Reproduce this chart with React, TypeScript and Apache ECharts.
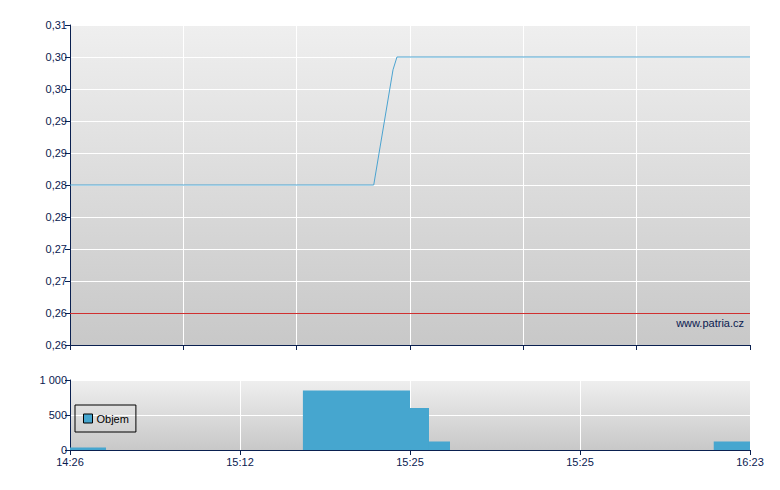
import React, { useEffect, useRef } from "react";
import * as echarts from "echarts";

// Price series (x in position units 0..120 along the time axis)
const priceX = [0, 53.6, 57.0, 57.7, 120];
const priceY = [0.28, 0.28, 0.298, 0.3, 0.3];
const refLineValue = 0.26;

// Price axis tick labels (bottom to top)
const priceTickLabels = ["0,26", "0,26", "0,27", "0,27", "0,28", "0,28", "0,29", "0,29", "0,30", "0,30", "0,31"];
const volTickLabels = ["0", "500", "1 000"];
const timeLabels = ["14:26", "15:12", "15:25", "15:25", "16:23"];

// Volume blocks: start, end, value
const volStart = [0, 41.1, 60, 63.35, 113.6];
const volEnd = [6.35, 60, 63.35, 67.06, 120];
const volValue = [35, 850, 600, 120, 120];

const NAVY = "#0a2050";
const FONT = "Liberation Sans";

export default function App() {
  const ref = useRef<HTMLDivElement>(null);
  useEffect(() => {
    if (!ref.current) return;
    const chart = echarts.init(ref.current, undefined, { renderer: "svg" });
    const bg = new echarts.graphic.LinearGradient(0, 0, 0, 1, [
      { offset: 0, color: "#efefef" },
      { offset: 1, color: "#c8c8c8" },
    ]);
    const bg2 = new echarts.graphic.LinearGradient(0, 0, 0, 1, [
      { offset: 0, color: "#efefef" },
      { offset: 1, color: "#c8c8c8" },
    ]);
    const axisCommon = {
      axisLine: { show: true, lineStyle: { color: NAVY, width: 1 } },
      axisTick: { show: true, length: 5, lineStyle: { color: NAVY } },
      axisLabel: { color: NAVY, fontFamily: FONT, fontSize: 11, margin: 3 },
      splitLine: { show: true, lineStyle: { color: "#ffffff", width: 1 } },
    };
    chart.setOption({
      animation: false,
      backgroundColor: "#ffffff",
      grid: [
        { left: 70, top: 25, width: 680, height: 320, show: true, backgroundColor: bg, borderWidth: 0 },
        { left: 70, top: 380, width: 680, height: 70, show: true, backgroundColor: bg2, borderWidth: 0 },
      ],
      xAxis: [
        {
          ...axisCommon,
          type: "value",
          gridIndex: 0,
          min: 0,
          max: 120,
          interval: 20,
          axisLabel: { show: false },
        },
        {
          ...axisCommon,
          type: "value",
          gridIndex: 1,
          min: 0,
          max: 120,
          interval: 30,
          axisLabel: {
            ...axisCommon.axisLabel,
            margin: 6,
            formatter: (v: number) => timeLabels[Math.round(v / 30)] ?? "",
          },
        },
      ],
      yAxis: [
        {
          ...axisCommon,
          type: "value",
          gridIndex: 0,
          min: 0.255,
          max: 0.305,
          interval: 0.005,
          axisLabel: {
            ...axisCommon.axisLabel,
            formatter: (v: number) => priceTickLabels[Math.round((v - 0.255) / 0.005)] ?? "",
          },
        },
        {
          ...axisCommon,
          type: "value",
          gridIndex: 1,
          min: 0,
          max: 1000,
          interval: 500,
          axisLabel: {
            ...axisCommon.axisLabel,
            formatter: (v: number) => volTickLabels[Math.round(v / 500)] ?? "",
          },
        },
      ],
      legend: {
        left: 75,
        top: 405,
        data: [{ name: "Objem", icon: "rect" }],
        itemWidth: 9,
        itemHeight: 9,
        itemGap: 4,
        padding: [8, 7, 8, 8],
        borderColor: "#000000",
        borderWidth: 1,
        borderRadius: 0,
        textStyle: { color: "#000000", fontFamily: FONT, fontSize: 11, padding: [0, 0, 0, -1] },
        itemStyle: { borderColor: "#000000", borderWidth: 1 },
      },
      graphic: [
        {
          type: "text",
          right: 36,
          top: 317,
          style: { text: "www.patria.cz", fill: NAVY, font: `11px '${FONT}'` },
        },
      ],
      series: [
        {
          type: "line",
          name: "Cena",
          xAxisIndex: 0,
          yAxisIndex: 0,
          data: priceX.map((x, i) => [x, priceY[i]]),
          showSymbol: false,
          lineStyle: { color: "#4ba3d0", width: 1 },
          markLine: {
            silent: true,
            symbol: "none",
            label: { show: false },
            lineStyle: { color: "#d03030", type: "solid", width: 1 },
            data: [{ yAxis: refLineValue }],
          },
        },
        {
          type: "custom",
          name: "Objem",
          xAxisIndex: 1,
          yAxisIndex: 1,
          itemStyle: { color: "#46a6cf" },
          data: volStart.map((s, i) => [s, volEnd[i], volValue[i]]),
          encode: { x: [0, 1], y: 2 },
          renderItem: (params: any, api: any) => {
            const p0 = api.coord([api.value(0), api.value(2)]);
            const p1 = api.coord([api.value(1), 0]);
            return {
              type: "rect",
              shape: { x: p0[0], y: p0[1], width: p1[0] - p0[0], height: p1[1] - p0[1] },
              style: { fill: "#46a6cf" },
            };
          },
        },
      ],
    });
    return () => chart.dispose();
  }, []);
  return <div ref={ref} style={{ width: 780, height: 490, margin: -8 }} />;
}
